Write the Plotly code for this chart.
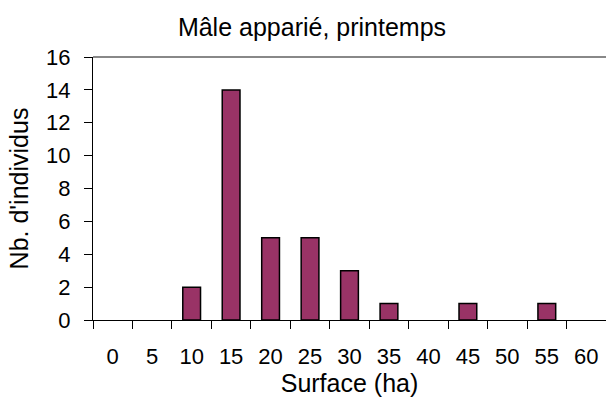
import plotly.graph_objects as go

categories = ["0", "5", "10", "15", "20", "25", "30", "35", "40", "45", "50", "55", "60"]
counts = [0, 0, 2, 14, 5, 5, 3, 1, 0, 1, 0, 1, 0]
y_ticks = [0, 2, 4, 6, 8, 10, 12, 14, 16]

title_text = "Mâle apparié, printemps"
x_title = "Surface (ha)"
y_title = "Nb. d'individus"

FONT = "Liberation Sans, Arial, sans-serif"
n = len(categories)
boundaries = [i - 0.5 for i in range(n + 1)]
outline_w = [1.5 if c > 0 else 0 for c in counts]

fig = go.Figure()
fig.add_trace(go.Bar(
    x=categories, y=counts, width=0.45,
    marker=dict(color="#993366", line=dict(color="#000000", width=outline_w)),
    showlegend=False, hoverinfo="skip",
))

fig.update_layout(
    width=606, height=405,
    margin=dict(l=93, r=0, t=57, b=85, autoexpand=False),
    paper_bgcolor="white", plot_bgcolor="white",
    font=dict(family=FONT, size=22, color="black"),
    title=dict(text=title_text, x=312 / 606, xanchor="center", y=1 - 27 / 405, yanchor="middle",
               font=dict(size=25, family=FONT, color="black")),
    xaxis=dict(
        type="category", categoryorder="array", categoryarray=categories,
        range=[-0.5, n - 0.5], showline=True, linecolor="black", linewidth=1.2,
        ticks="outside", ticklen=8, tickwidth=1.2, tickcolor="black", tickson="boundaries",
        showgrid=False, zeroline=False, ticklabelstandoff=16, automargin=False,
        tickfont=dict(size=22),
        title=dict(text=x_title, standoff=6, font=dict(size=25)),
    ),
    xaxis2=dict(
        overlaying="x", anchor="y", side="bottom", range=[-0.5, n - 0.5],
        tickmode="array", tickvals=boundaries, ticks="inside", ticklen=8, tickwidth=1.2,
        tickcolor="black", showticklabels=False, showgrid=False, zeroline=False, showline=False,
        automargin=False,
    ),
    yaxis=dict(
        range=[0, 16], tickmode="array", tickvals=y_ticks,
        showline=True, linecolor="black", linewidth=1.2,
        ticks="outside", ticklen=8, tickwidth=1.2, tickcolor="black",
        showgrid=False, zeroline=False, ticklabelstandoff=9, automargin=False,
        tickfont=dict(size=22),
        title=dict(text=y_title, standoff=10, font=dict(size=25)),
    ),
    yaxis2=dict(
        overlaying="y", anchor="x", side="left", range=[0, 16],
        tickmode="array", tickvals=y_ticks, ticks="inside", ticklen=8, tickwidth=1.2,
        tickcolor="black", showticklabels=False, showgrid=False, zeroline=False, showline=False,
        automargin=False,
    ),
    shapes=[dict(type="line", xref="paper", yref="paper", x0=0, x1=1, y0=1, y1=1,
                 line=dict(color="#888888", width=2))],
)

fig.write_html("out.html", config={"displayModeBar": False},
               post_script="document.body.style.margin='0';document.body.style.overflow='hidden';")
